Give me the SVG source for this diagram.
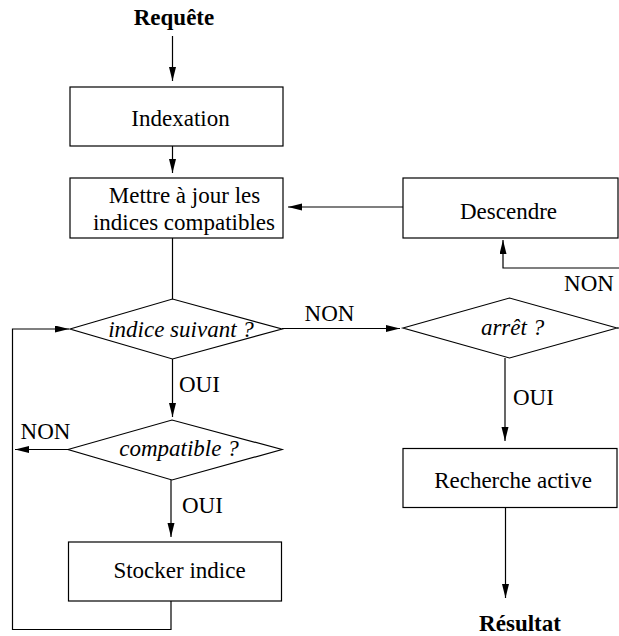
<svg xmlns="http://www.w3.org/2000/svg" width="619" height="636" viewBox="0 0 619 636" font-family="'Liberation Serif', 'DejaVu Serif', serif">
<defs>
<marker id="ah" markerUnits="userSpaceOnUse" markerWidth="14" markerHeight="8" refX="14" refY="3.5" orient="auto">
<path d="M0,0 L14,3.5 L0,7 z" fill="#000"/>
</marker>
<style>
text{font-family:'Liberation Serif','DejaVu Serif',serif;font-size:23px;fill:#000}
.b{font-weight:bold}
.i{font-style:italic}
.m{text-anchor:middle}
.shape{fill:#fff;stroke:#000;stroke-width:1.2}
.c{fill:none;stroke:#000;stroke-width:1.2}
.a{marker-end:url(#ah)}
</style>
</defs>
<rect width="619" height="636" fill="#fff"/>
<g id="connectors">
<path class="c a" d="M172.5,36 V81"/>
<path class="c a" d="M172.5,146 V173"/>
<path class="c a" d="M403,207 H288"/>
<path class="c a" d="M617,328 H640 V268 H503 V240"/>
<path class="c" d="M172.5,238 V299"/>
<path class="c a" d="M282,328.5 H400"/>
<path class="c a" d="M172.5,359 V417"/>
<path class="c a" d="M68,449.5 H15"/>
<path class="c a" d="M171,480 V537"/>
<path class="c a" d="M171,601 V629.5 H12.5 V329 H69"/>
<path class="c a" d="M505,358 V441"/>
<path class="c a" d="M505.5,508 V598"/>
</g>
<g id="requete"><text class="b m" x="174" y="25">Requête</text></g>
<g id="indexation">
<rect class="shape" x="70" y="87" width="213" height="59"/>
<text class="m" x="180.5" y="126">Indexation</text>
</g>
<g id="mettre">
<rect class="shape" x="70" y="178" width="213" height="60"/>
<text class="m" x="184.5" y="203">Mettre à jour les</text>
<text class="m" x="184" y="230">indices compatibles</text>
</g>
<g id="descendre">
<rect class="shape" x="403" y="178" width="215" height="60"/>
<text class="m" x="508.5" y="219">Descendre</text>
</g>
<g id="indice-suivant">
<polygon class="shape" points="70,329 172.5,299 282,329 172.5,359"/>
<text class="i m" x="181" y="337">indice suivant ?</text>
</g>
<g id="arret">
<polygon class="shape" points="403,328 509.5,298 617,328 509.5,358"/>
<text class="i m" x="512.5" y="335">arrêt ?</text>
</g>
<g id="compatible">
<polygon class="shape" points="68,449.5 172,420 282,449.5 172,480"/>
<text class="i m" x="179" y="456">compatible ?</text>
</g>
<g id="stocker">
<rect class="shape" x="68.5" y="542" width="213" height="59"/>
<text class="m" x="179.5" y="578">Stocker indice</text>
</g>
<g id="recherche">
<rect class="shape" x="403" y="448.5" width="214" height="59"/>
<text class="m" x="513" y="488">Recherche active</text>
</g>
<g id="resultat"><text class="b m" x="520" y="631">Résultat</text></g>
<g id="labels">
<text class="m" x="589" y="291">NON</text>
<text class="m" x="329.5" y="321">NON</text>
<text x="179" y="392">OUI</text>
<text class="m" x="45.5" y="439">NON</text>
<text x="182" y="513">OUI</text>
<text x="513" y="405">OUI</text>
</g>
</svg>
